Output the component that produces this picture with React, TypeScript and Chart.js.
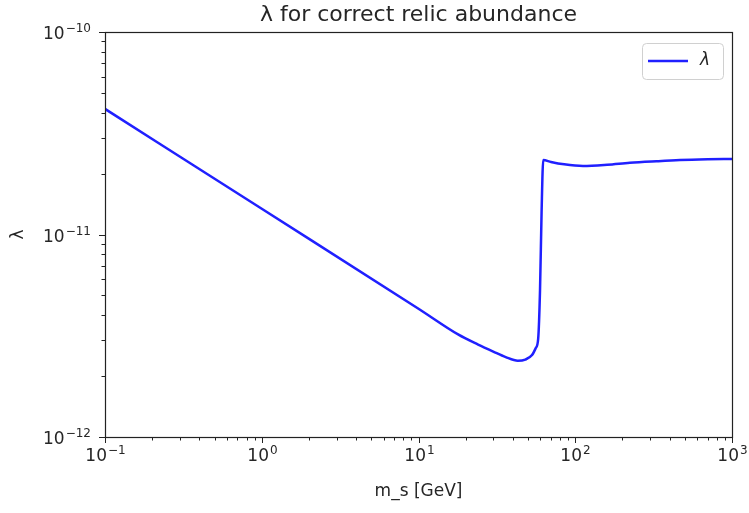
import React, { useEffect, useRef } from "react";
import { Chart, registerables } from "chart.js";

Chart.register(...registerables);

// ---- data ----
const massGeV = [0.1, 1, 10, 18, 24, 30, 36, 43, 48, 53, 56, 58, 59.6, 61, 62.5, 70, 85, 112, 160, 223, 330, 466, 700, 1000];
const lambdaValues = [
  4.17e-11, 1.34e-11, 4.3e-12, 3.2e-12, 2.86e-12, 2.64e-12, 2.48e-12, 2.38e-12, 2.41e-12, 2.54e-12, 2.75e-12,
  3.05e-12, 5.3e-12, 1.3e-11, 2.33e-11, 2.28e-11, 2.22e-11, 2.18e-11, 2.21e-11, 2.26e-11, 2.3e-11, 2.33e-11,
  2.35e-11, 2.36e-11,
];
const xMajorTicks = [0.1, 1, 10, 100, 1000];
const xTickExponents = ["−1", "0", "1", "2", "3"];
const yMajorTicks = [1e-12, 1e-11, 1e-10];
const yTickExponents = ["−12", "−11", "−10"];
const tickBase = "10";
const titleText = "λ for correct relic abundance";
const xAxisLabel = "m_s [GeV]";
const yAxisLabel = "λ";
const seriesLabel = "λ";

const FONT = "'DejaVu Sans', sans-serif";
const TEXT = "#262626";
const LINE = "#2020ff";
const TICK_FONT = 17;
const EXP_FONT = 12;

function logTicks(min: number, max: number) {
  const out: number[] = [];
  const e0 = Math.floor(Math.log10(min));
  const e1 = Math.ceil(Math.log10(max));
  for (let e = e0; e <= e1; e++) {
    for (let m = 1; m < 10; m++) {
      const v = m * Math.pow(10, e);
      if (v >= min * 0.999 && v <= max * 1.001) out.push(v);
    }
  }
  return out;
}

function isMajor(v: number) {
  const l = Math.log10(v);
  return Math.abs(l - Math.round(l)) < 1e-6;
}

function exponentFor(v: number, majors: number[], exps: string[]) {
  if (!isMajor(v)) return null;
  const l = Math.round(Math.log10(v));
  const i = majors.findIndex((m) => Math.round(Math.log10(m)) === l);
  return i >= 0 ? exps[i] : null;
}

function drawPow(ctx: CanvasRenderingContext2D, exp: string, x: number, baseline: number, align: "center" | "right") {
  ctx.font = TICK_FONT + "px " + FONT;
  const wb = ctx.measureText(tickBase).width;
  ctx.font = EXP_FONT + "px " + FONT;
  const we = ctx.measureText(exp).width;
  const total = wb + 1 + we;
  const x0 = align === "center" ? x - total / 2 : x - total;
  ctx.textAlign = "left";
  ctx.textBaseline = "alphabetic";
  ctx.font = TICK_FONT + "px " + FONT;
  ctx.fillText(tickBase, x0, baseline);
  ctx.font = EXP_FONT + "px " + FONT;
  ctx.fillText(exp, x0 + wb + 1, baseline - 7);
}

const framePlugin = {
  id: "frameTicksLegend",
  afterDraw(chart: any) {
    const { ctx, chartArea } = chart;
    const { left, right, top, bottom } = chartArea;
    ctx.save();
    ctx.strokeStyle = "#222";
    ctx.fillStyle = TEXT;
    ctx.lineWidth = 1;
    // x ticks + labels
    const xs = chart.scales.x;
    xs.ticks.forEach((t: any) => {
      const p = Math.round(xs.getPixelForValue(t.value)) + 0.5;
      const major = isMajor(t.value);
      ctx.beginPath();
      ctx.moveTo(p, bottom);
      ctx.lineTo(p, bottom + (major ? 6 : 3.5));
      ctx.stroke();
      const e = exponentFor(t.value, xMajorTicks, xTickExponents);
      if (e !== null) drawPow(ctx, e, p, bottom + 24, "center");
    });
    // y ticks + labels
    const ys = chart.scales.y;
    ys.ticks.forEach((t: any) => {
      const p = Math.round(ys.getPixelForValue(t.value)) + 0.5;
      const major = isMajor(t.value);
      ctx.beginPath();
      ctx.moveTo(left, p);
      ctx.lineTo(left - (major ? 6 : 3.5), p);
      ctx.stroke();
      const e = exponentFor(t.value, yMajorTicks, yTickExponents);
      if (e !== null) drawPow(ctx, e, left - 14, p + 6, "right");
    });
    // frame
    ctx.lineWidth = 1.2;
    ctx.strokeRect(Math.round(left) + 0.5, Math.round(top) + 0.5, Math.round(right - left), Math.round(bottom - top));

    // title, centred over the plot area
    ctx.font = "22px " + FONT;
    ctx.textAlign = "center";
    ctx.textBaseline = "alphabetic";
    ctx.fillText(titleText, (left + right) / 2, 21);

    // legend
    const ds = chart.data.datasets[0];
    const bw = 81;
    const bh = 36;
    const bx = right - 9 - bw;
    const by = top + 11;
    ctx.beginPath();
    (ctx as any).roundRect(bx + 0.5, by + 0.5, bw, bh, 4);
    ctx.fillStyle = "rgba(255,255,255,0.8)";
    ctx.fill();
    ctx.strokeStyle = "#d0d0d0";
    ctx.lineWidth = 1;
    ctx.stroke();
    const cy = by + bh / 2;
    ctx.beginPath();
    ctx.moveTo(bx + 6, cy);
    ctx.lineTo(bx + 46, cy);
    ctx.strokeStyle = ds.borderColor;
    ctx.lineWidth = ds.borderWidth;
    ctx.stroke();
    ctx.fillStyle = TEXT;
    ctx.font = "oblique 17px " + FONT;
    ctx.textAlign = "left";
    ctx.textBaseline = "middle";
    ctx.fillText(ds.label, bx + 58, cy);
    ctx.restore();
  },
};

export default function App() {
  const ref = useRef<HTMLCanvasElement | null>(null);

  useEffect(() => {
    document.body.style.margin = "0";
    const canvas = ref.current;
    if (!canvas) return;
    const chart = new Chart(canvas, {
      type: "line",
      data: {
        datasets: [
          {
            label: seriesLabel,
            data: massGeV.map((m, i) => ({ x: m, y: lambdaValues[i] })),
            borderColor: LINE,
            borderWidth: 2.5,
            pointRadius: 0,
            fill: false,
            cubicInterpolationMode: "monotone",
          },
        ],
      },
      options: {
        responsive: false,
        animation: false,
        layout: { padding: { left: 0, right: 17, top: 32, bottom: 0 } },
        plugins: {
          legend: { display: false },
          tooltip: { enabled: false },
          title: { display: false, text: titleText },
        },
        scales: {
          x: {
            type: "logarithmic",
            min: 0.1,
            max: 1000,
            afterBuildTicks: (scale: any) => {
              scale.ticks = logTicks(0.1, 1000).map((v) => ({ value: v }));
            },
            afterFit: (scale: any) => {
              scale.height = 76;
            },
            ticks: { display: false, autoSkip: false, maxRotation: 0 },
            grid: { display: false },
            border: { display: false },
            title: {
              display: true,
              text: xAxisLabel,
              color: TEXT,
              font: { family: FONT, size: 17 },
              padding: { top: 0, bottom: 11 },
            },
          },
          y: {
            type: "logarithmic",
            min: 1e-12,
            max: 1e-10,
            afterBuildTicks: (scale: any) => {
              scale.ticks = logTicks(1e-12, 1e-10).map((v) => ({ value: v }));
            },
            afterFit: (scale: any) => {
              scale.width = 105;
            },
            ticks: { display: false, autoSkip: false },
            grid: { display: false },
            border: { display: false },
            title: {
              display: true,
              text: yAxisLabel,
              color: TEXT,
              font: { family: FONT, size: 17 },
              padding: { top: 8, bottom: 0 },
            },
          },
        },
      },
      plugins: [framePlugin],
    } as any);
    return () => chart.destroy();
  }, []);

  return (
    <div style={{ position: "absolute", left: 0, top: 0, width: 749, height: 513, background: "#fff" }}>
      <canvas ref={ref} width={749} height={513} style={{ width: 749, height: 513, display: "block" }} />
    </div>
  );
}
